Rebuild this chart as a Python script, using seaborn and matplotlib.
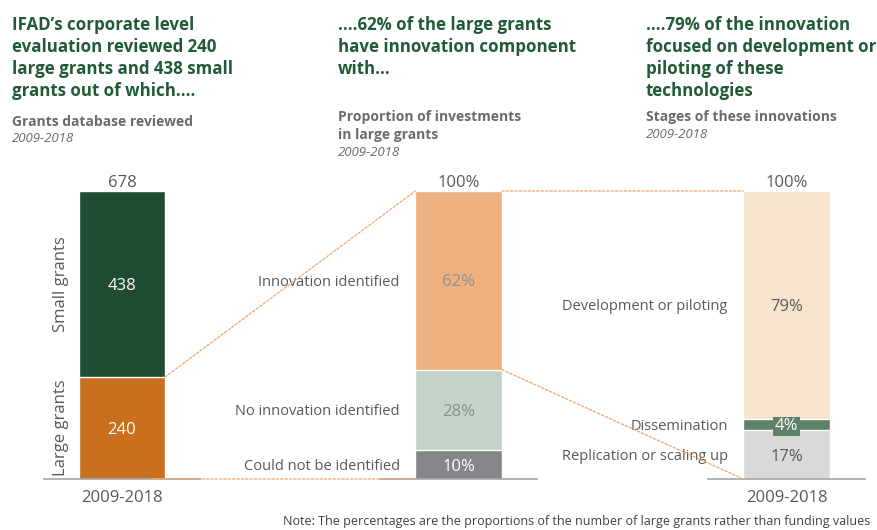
import numpy as np
import pandas as pd
import matplotlib
matplotlib.use("Agg")
import matplotlib.pyplot as plt
from matplotlib.patches import ConnectionPatch
import seaborn as sns

# data
period = ["2009-2018"]
grant_types = ["Large grants", "Small grants"]
grant_counts = [240, 438]
innov_labels = ["Could not be identified", "No innovation identified", "Innovation identified"]
innov_pct = [10, 28, 62]
stage_labels = ["Replication or scaling up", "Dissemination", "Development or piloting"]
stage_pct = [17, 4, 79]

sns.set_theme(style="white")
plt.rcParams["font.family"] = ["Open Sans", "DejaVu Sans"]

W, H = 877, 530
fig = plt.figure(figsize=(W / 100, H / 100), dpi=100)

GREEN_T = "#215a36"
GREY_T = "#6b6b6b"
TXT = "#595959"
BASE = "#a6a6a6"
DOT = "#f2a66e"
BAR_W = 0.55


def px_axes(x0, x1, y_top, y_bot):
    return fig.add_axes([x0 / W, 1 - y_bot / H, (x1 - x0) / W, (y_bot - y_top) / H])


def stacked(ax, values, colors, ymax):
    cum = np.cumsum(values)
    for i in reversed(range(len(values))):
        df = pd.DataFrame({"period": period, "value": [cum[i]]})
        sns.barplot(data=df, x="period", y="value", color=colors[i], width=BAR_W,
                    errorbar=None, ax=ax, edgecolor="white", linewidth=1, saturation=1)
    ax.set_ylim(0, ymax)
    ax.set_xlim(-0.5, 0.5)
    ax.set_xlabel("")
    ax.set_ylabel("")
    ax.set_yticks([])
    for s in ["top", "right", "left"]:
        ax.spines[s].set_visible(False)
    ax.spines["bottom"].set_color(BASE)
    ax.spines["bottom"].set_linewidth(1.2)
    ax.tick_params(axis="x", length=0, labelsize=12, labelcolor=TXT, pad=8)
    ax.patch.set_alpha(0)
    return cum


# panel 1
ax1 = px_axes(44, 200, 191, 479)
c1 = stacked(ax1, grant_counts, ["#c96f1d", "#1f4d31"], sum(grant_counts))
ax1.text(0, c1[-1], f"{c1[-1]}", ha="center", va="bottom", fontsize=12, color=TXT)
for v, b in zip(grant_counts, np.concatenate([[0], c1[:-1]])):
    ax1.text(0, b + v / 2, f"{v}", ha="center", va="center_baseline", fontsize=12, color="white")
ax1.text(-0.39, c1[0] / 2, grant_types[0], rotation=90, ha="center", va="center", fontsize=12, color=TXT)
ax1.text(-0.39, c1[0] + grant_counts[1] / 2, grant_types[1], rotation=90, ha="center", va="center",
         fontsize=12, color=TXT)

# panel 2
ax2 = px_axes(380, 537, 191, 479)
c2 = stacked(ax2, innov_pct, ["#858689", "#c4d3c9", "#eeb07e"], 100)
ax2.set_xticklabels([""])
ax2.text(0, 100, "100%", ha="center", va="bottom", fontsize=12, color=TXT)
val_cols2 = ["white", "#8a8f8c", "#8e8e8e"]
for lab, v, b, tc in zip(innov_labels, innov_pct, np.concatenate([[0], c2[:-1]]), val_cols2):
    ax2.text(0, b + v / 2, f"{v}%", ha="center", va="center_baseline", fontsize=12, color=tc)
    ax2.text(-BAR_W / 2 - 0.1, b + v / 2, lab, ha="right", va="center_baseline", fontsize=10.5, color=TXT)

# panel 3
ax3 = px_axes(708, 865, 191, 479)
c3 = stacked(ax3, stage_pct, ["#d7d9db", "#5c8068", "#f6e4cf"], 100)
ax3.text(0, 100, "100%", ha="center", va="bottom", fontsize=12, color=TXT)
for lab, v, b in zip(stage_labels, stage_pct, np.concatenate([[0], c3[:-1]])):
    if v < 8:
        ax3.text(0, b + v / 2, f"{v}%", ha="center", va="center_baseline", fontsize=12, color="white",
                 bbox=dict(boxstyle="square,pad=0.1", fc="#5c8068", ec="none"))
    else:
        ax3.text(0, b + v / 2, f"{v}%", ha="center", va="center_baseline", fontsize=12, color=TXT)
    ax3.text(-BAR_W / 2 - 0.1, b + v / 2, lab, ha="right", va="center_baseline", fontsize=10.5, color=TXT)

# dotted connectors
def connect(axa, xa, ya, axb, xb, yb):
    con = ConnectionPatch(xyA=(xa, ya), coordsA=axa.transData, xyB=(xb, yb), coordsB=axb.transData,
                          color=DOT, linestyle=(0, (2, 1.5)), linewidth=0.9, zorder=5)
    fig.add_artist(con)

connect(ax1, BAR_W / 2, c1[0], ax2, -BAR_W / 2, 100)
connect(ax1, BAR_W / 2 - 0.1, 0, ax2, -BAR_W / 2, 0)
connect(ax2, BAR_W / 2, 100, ax3, -BAR_W / 2, 100)
connect(ax2, BAR_W / 2, c2[1], ax3, -BAR_W / 2, 0)

# titles
def title_block(x, head, sub, sub_y, year_y):
    fig.text(x / W, 1 - 16 / H, head, ha="left", va="top", fontsize=12.2, fontweight="bold",
             color=GREEN_T, linespacing=1.28)
    fig.text(x / W, 1 - sub_y / H, sub, ha="left", va="top", fontsize=10, fontweight="bold",
             color=GREY_T, linespacing=1.35)
    fig.text(x / W, 1 - year_y / H, "2009-2018", ha="left", va="top", fontsize=9.5, style="italic",
             color=GREY_T)

title_block(12, "IFAD\u2019s corporate level\nevaluation reviewed 240\nlarge grants and 438 small\ngrants out of which....",
            "Grants database reviewed", 115, 132)
title_block(338, "....62% of the large grants\nhave innovation component\nwith...",
            "Proportion of investments\nin large grants", 110, 146)
title_block(646, "....79% of the innovation\nfocused on development or\npiloting of these\ntechnologies",
            "Stages of these innovations", 110, 128)

fig.text(870 / W, 1 - 521 / H,
         "Note: The percentages are the proportions of the number of large grants rather than funding values",
         ha="right", va="center", fontsize=9, color="#404040")

fig.savefig("out.png", dpi=100)
